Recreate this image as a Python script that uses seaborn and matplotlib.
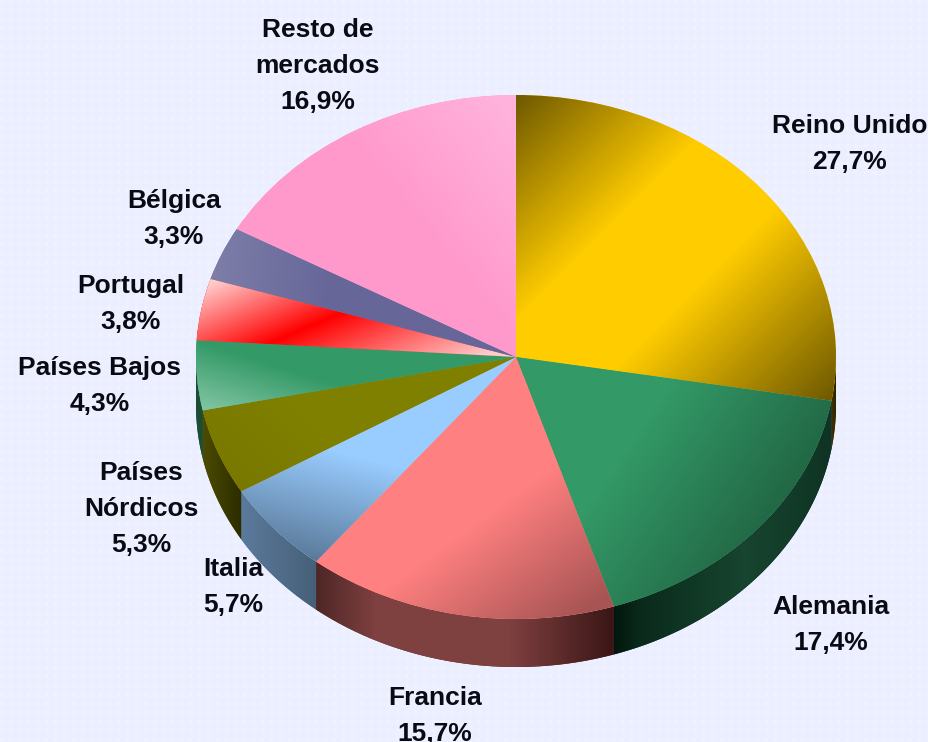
import matplotlib
matplotlib.use("Agg")
import matplotlib.pyplot as plt
import numpy as np
import seaborn as sns
from matplotlib.colors import LinearSegmentedColormap
from matplotlib.patches import PathPatch
from matplotlib.path import Path
from matplotlib.transforms import Affine2D

mercados = ["Reino Unido", "Alemania", "Francia", "Italia", "Países\nNórdicos",
            "Países Bajos", "Portugal", "Bélgica", "Resto de\nmercados"]
cuotas = [27.7, 17.4, 15.7, 5.7, 5.3, 4.3, 3.8, 3.3, 16.9]
colores = ["#ffcc00", "#339966", "#ff8080", "#99ccff", "#808000",
           "#339966", "#ff0000", "#666699", "#ff99cc"]

# label centres in pixels
label_xy = [(850, 144), (831, 625), (435, 716), (233, 587), (141, 509),
            (100, 386), (131, 304), (174, 219), (318, 66)]

# pie geometry in pixels
CX, CY, RX, RY, DEPTH = 516, 357, 320, 262, 48
W, H = 929, 742

# top face shading: start point, end point, stops
top_grad = [
    ((516, 97), (826, 407), [(0, "#6f5900"), (0.36, "#ffcc00"), (0.6, "#ffcc00"), (1, "#6f5900")]),
    ((640, 430), (830, 560), [(0, "#339966"), (1, "#1a5237")]),
    ((480, 520), (560, 630), [(0, "#ff8080"), (1, "#a85454")]),
    ((330, 450), (300, 565), [(0, "#99ccff"), (1, "#567492")]),
    ((300, 400), (220, 480), [(0, "#808000"), (1, "#787800")]),
    ((260, 360), (241, 420), [(0, "#339966"), (1, "#80c4a2")]),
    ((205, 285), (273, 446), [(0, "#ffcccc"), (0.45, "#ff0000"), (1, "#ffcccc")]),
    ((330, 290), (215, 280), [(0, "#666699"), (1, "#7d7da8")]),
    ((510, 110), (400, 200), [(0, "#ffb3dc"), (1, "#ff99cc")]),
]
# side wall shading, left to right in x
wall_grad = [
    [(0, "#3f3300"), (1, "#2e2500")],
    [(0, "#02170e"), (0.12, "#0a2a1c"), (0.6, "#17452f"), (1, "#0f3324")],
    [(0, "#4f2626"), (0.2, "#7f4040"), (0.65, "#7f4040"), (1, "#3a1616")],
    [(0, "#5c7a9c"), (1, "#466078")],
    [(0, "#4c4c00"), (1, "#2c2c00")],
    [(0, "#1a4d33"), (1, "#1a4d33")],
    [(0, "#7f0000"), (1, "#7f0000")],
    [(0, "#333350"), (1, "#333350")],
    [(0, "#7f4c66"), (1, "#7f4c66")],
]


def gradient_image(ax, p0, p1, stops, clip, zorder):
    xx, yy = np.meshgrid(np.arange(W) + 0.5, np.arange(H) + 0.5)
    d = np.array(p1, dtype=float) - np.array(p0, dtype=float)
    t = ((xx - p0[0]) * d[0] + (yy - p0[1]) * d[1]) / (d @ d)
    cmap = LinearSegmentedColormap.from_list("g", stops, N=256)
    im = ax.imshow(np.clip(t, 0, 1), cmap=cmap, vmin=0, vmax=1, extent=(0, W, H, 0),
                   aspect="auto", interpolation="bilinear", zorder=zorder)
    im.set_clip_path(clip)
    return im


sns.set_theme(style="white")
plt.rcParams["font.family"] = ["Liberation Sans", "DejaVu Sans"]

fig = plt.figure(figsize=(W / 100, H / 100), dpi=100)
ax = fig.add_axes([0, 0, 1, 1])

# tiled page background
yy, xx = np.mgrid[0:H, 0:W]
bg = np.ones((H, W, 3)) * np.array([0.922, 0.94, 1.0])
bg[((xx % 9) < 3) & ((yy % 9) < 3)] = (0.938, 0.956, 1.0)
bg[((xx % 9) >= 5) & ((yy % 9) >= 5)] = (0.928, 0.932, 0.995)
ax.imshow(bg, extent=(0, W, H, 0), aspect="auto", interpolation="nearest", zorder=0)

wedges, _ = ax.pie(cuotas, colors=sns.color_palette(colores), startangle=90,
                   counterclock=False, radius=1, normalize=True)
ellipse = Affine2D().scale(RX, -RY).translate(CX, CY) + ax.transData

for i, wedge in enumerate(wedges):
    # side wall, only the part facing the viewer
    ang = np.radians(np.linspace(wedge.theta1, wedge.theta2, 240))
    ang = ang[np.sin(ang) <= 0]
    if len(ang) > 1:
        xs = CX + RX * np.cos(ang)
        ys = CY - RY * np.sin(ang)
        verts = np.r_[np.c_[xs, ys], np.c_[xs, ys + DEPTH][::-1], [[xs[0], ys[0]]]]
        wall = PathPatch(Path(verts), facecolor=wall_grad[i][0][1], edgecolor="none",
                         transform=ax.transData, zorder=2)
        ax.add_patch(wall)
        gradient_image(ax, (xs.min(), 0), (xs.max(), 0), wall_grad[i], wall, 3)

    wedge.set_transform(ellipse)
    wedge.set_zorder(4)
    wedge.set_edgecolor("none")
    p0, p1, stops = top_grad[i]
    gradient_image(ax, p0, p1, stops, wedge, 5)

for nombre, v, (x, y) in zip(mercados, cuotas, label_xy):
    txt = f"{nombre}\n{v:.1f}%".replace(".", ",")
    ax.text(x, y, txt, ha="center", va="center", fontsize=19, fontweight="bold",
            color="#0a0a14", linespacing=1.62, zorder=8)

ax.set_xlim(0, W)
ax.set_ylim(H, 0)
ax.set_aspect("auto")
ax.axis("off")

fig.savefig("out.png", dpi=100)
plt.close(fig)
